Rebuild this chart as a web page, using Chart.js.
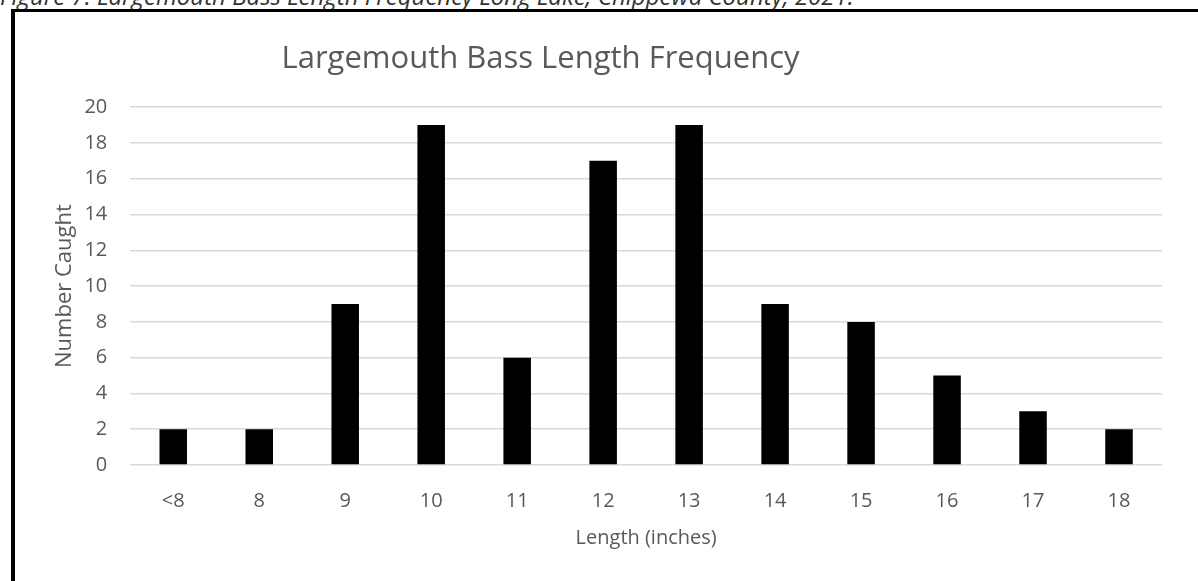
<!DOCTYPE html>
<html>
<head>
<meta charset="utf-8">
<script src="https://cdn.jsdelivr.net/npm/chart.js@4/dist/chart.umd.min.js"></script>
<style>
  html, body { margin: 0; padding: 0; background: #fff; overflow: hidden; }
  body { width: 1198px; height: 581px; position: relative; }
  #caption { position: absolute; left: 0; top: -21px; font: italic 24px "Open Sans", sans-serif; color: #333; white-space: nowrap; }
  #frame { position: absolute; left: 11px; top: 9px; width: 1300px; height: 700px; border-left: 4px solid #000; border-top: 3px solid #000; }
  #wrap { position: absolute; left: 0; top: 0; width: 1198px; height: 581px; }
</style>
</head>
<body>
<div id="caption">Figure 7: Largemouth Bass Length Frequency Long Lake, Chippewa County, 2021.</div>
<div id="frame"></div>
<div id="wrap"><canvas id="chart"></canvas></div>
<script>
const lengths = ['<8', '8', '9', '10', '11', '12', '13', '14', '15', '16', '17', '18'];
const caught = [2, 2, 9, 19, 6, 17, 19, 9, 8, 5, 3, 2];
const yTicks = [0, 2, 4, 6, 8, 10, 12, 14, 16, 18, 20];

const grey = '#595959';
const font = 'Open Sans';

// the title in the original sits left of the plot centre
const shiftTitle = {
  id: 'shiftTitle',
  afterLayout(chart) {
    if (chart.titleBlock) { chart.titleBlock.left = 0; chart.titleBlock.right = 1081; }
  }
};

const ctx = document.getElementById('chart').getContext('2d');
new Chart(ctx, {
  type: 'bar',
  data: {
    labels: lengths,
    datasets: [{ label: 'Number Caught', data: caught, backgroundColor: '#000', borderWidth: 0,
      categoryPercentage: 1, barPercentage: 0.32 }]
  },
  options: {
    responsive: true,
    maintainAspectRatio: false,
    animation: false,
    layout: { padding: { top: 41, right: 36, bottom: 27, left: 48 } },
    plugins: {
      legend: { display: false },
      tooltip: { enabled: false },
      title: { display: true, text: 'Largemouth Bass Length Frequency', color: grey,
        font: { family: font, size: 31, weight: 'normal' }, padding: { top: 0, bottom: 29 } }
    },
    scales: {
      x: {
        grid: { display: false, drawTicks: false },
        border: { display: false },
        ticks: { color: grey, font: { family: font, size: 20 }, padding: 24 },
        title: { display: true, text: 'Length (inches)', color: grey, font: { family: font, size: 20 }, padding: { top: -11, bottom: 4 } }
      },
      y: {
        min: 0, max: 20,
        afterBuildTicks: s => { s.ticks = yTicks.map(v => ({ value: v })); },
        grid: { color: '#d9d9d9', lineWidth: 1.5, drawTicks: false },
        border: { display: false },
        ticks: { color: grey, font: { family: font, size: 20 }, padding: 23 },
        title: { display: true, text: 'Number Caught', color: grey, font: { family: font, size: 22 }, padding: { top: 4, bottom: -17 } }
      }
    }
  },
  plugins: [shiftTitle]
});
</script>
</body>
</html>
